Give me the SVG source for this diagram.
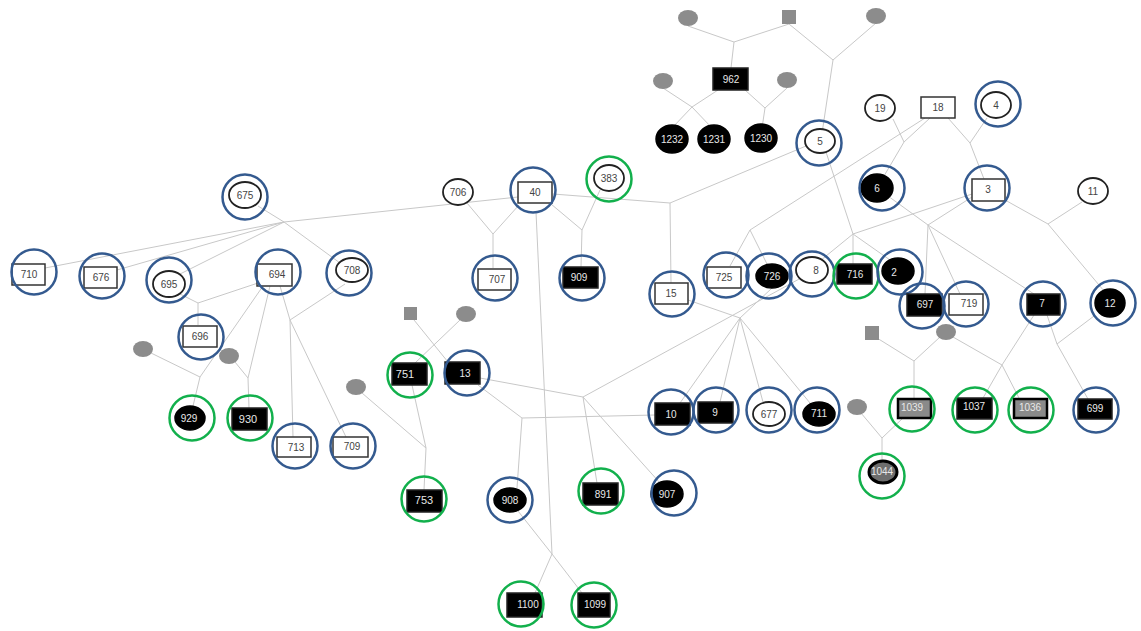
<svg xmlns="http://www.w3.org/2000/svg" width="1141" height="631" viewBox="0 0 1141 631">
<style>
.l{stroke:#c8c8c8;stroke-width:1;fill:none}
.m{fill:#fff;stroke:#333;stroke-width:1.5}
.ma{fill:#000;stroke:#222;stroke-width:1.5}
.mg{fill:#8a8a8a;stroke:#000;stroke-width:2.5}
.f{fill:#fff;stroke:#222;stroke-width:1.8}
.fa{fill:#000;stroke:#000;stroke-width:1.5}
.fg{fill:#6e6e6e;stroke:#000;stroke-width:3}
.u{fill:#8c8c8c;stroke:none}
.b{fill:none;stroke:#345a8f;stroke-width:2.5}
.g{fill:none;stroke:#12b04c;stroke-width:2.5}
text{font-family:"Liberation Sans",Arial,sans-serif;font-size:10px;text-anchor:middle;fill:#444}
.w{fill:#e8e8e8}
</style>
<g id="connectors">
<polyline class="l" points="688,26 734,42 789,24"/><line class="l" x1="734" y1="42" x2="731" y2="68"/>
<polyline class="l" points="789,24 833,60 876,23"/><line class="l" x1="833" y1="60" x2="821" y2="140"/>
<polyline class="l" points="718,90 692,107 663,88"/><line class="l" x1="692" y1="107" x2="672" y2="128"/><line class="l" x1="692" y1="107" x2="712" y2="128"/>
<polyline class="l" points="745,90 765,108 787,88"/><line class="l" x1="765" y1="108" x2="762" y2="128"/>
<polyline class="l" points="893,119 904,142 930,118"/><line class="l" x1="904" y1="142" x2="884" y2="176"/>
<line class="l" x1="925" y1="118" x2="750" y2="230"/><line class="l" x1="750" y1="230" x2="730" y2="266"/><line class="l" x1="750" y1="230" x2="768" y2="266"/>
<polyline class="l" points="948,118 970,143 987,118"/><line class="l" x1="970" y1="143" x2="984" y2="179"/>
<polyline class="l" points="826,152 853,234 972,194"/><line class="l" x1="853" y1="234" x2="815" y2="265"/><line class="l" x1="853" y1="234" x2="853" y2="264"/><line class="l" x1="853" y1="234" x2="890" y2="260"/>
<polyline class="l" points="888,196 928,225 1034,294"/><line class="l" x1="972" y1="197" x2="928" y2="225"/><line class="l" x1="928" y1="225" x2="925" y2="294"/><line class="l" x1="928" y1="225" x2="960" y2="294"/>
<polyline class="l" points="1005,200 1048,224 1082,202"/><line class="l" x1="1048" y1="224" x2="1104" y2="291"/>
<line class="l" x1="518" y1="197" x2="284" y2="222"/><polyline class="l" points="258,206 284,222 340,263"/><line class="l" x1="284" y1="222" x2="45" y2="268"/><line class="l" x1="284" y1="222" x2="117" y2="270"/><line class="l" x1="284" y1="222" x2="180" y2="274"/>
<polyline class="l" points="467,203 493,234 519,205"/><line class="l" x1="493" y1="234" x2="493" y2="268"/>
<polyline class="l" points="551,204 582,230 600,190"/><line class="l" x1="582" y1="230" x2="581" y2="267"/>
<polyline class="l" points="553,194 670,203 806,146"/><line class="l" x1="670" y1="203" x2="671" y2="283"/>
<line class="l" x1="536" y1="212" x2="552" y2="554"/><line class="l" x1="518" y1="511" x2="552" y2="554"/><line class="l" x1="552" y1="554" x2="535" y2="593"/><line class="l" x1="552" y1="554" x2="582" y2="593"/>
<polyline class="l" points="172,290 198,303 258,283"/><line class="l" x1="198" y1="303" x2="198" y2="325"/>
<polyline class="l" points="263,286 200,377 151,353"/><line class="l" x1="200" y1="377" x2="193" y2="406"/>
<polyline class="l" points="270,286 248,378 235,362"/><line class="l" x1="248" y1="378" x2="249" y2="408"/>
<polyline class="l" points="280,286 290,320 345,284"/><line class="l" x1="290" y1="320" x2="293" y2="437"/><line class="l" x1="290" y1="320" x2="346" y2="437"/>
<line class="l" x1="414" y1="320" x2="448" y2="362"/><line class="l" x1="460" y1="320" x2="415" y2="363"/>
<polyline class="l" points="412,385 426,448 362,393"/><line class="l" x1="426" y1="448" x2="424" y2="490"/>
<polyline class="l" points="480,378 583,397 812,272"/><line class="l" x1="583" y1="397" x2="597" y2="483"/><line class="l" x1="583" y1="397" x2="660" y2="483"/>
<polyline class="l" points="478,385 522,418 655,415"/><line class="l" x1="522" y1="418" x2="517" y2="488"/>
<polyline class="l" points="688,300 740,318 772,288"/><line class="l" x1="740" y1="318" x2="680" y2="403"/><line class="l" x1="740" y1="318" x2="720" y2="402"/><line class="l" x1="740" y1="318" x2="763" y2="402"/><line class="l" x1="740" y1="318" x2="810" y2="403"/>
<polyline class="l" points="877,338 914,361 940,337"/><line class="l" x1="914" y1="361" x2="914" y2="398"/>
<polyline class="l" points="953,337 1002,365 1034,315"/><line class="l" x1="1002" y1="365" x2="983" y2="398"/><line class="l" x1="1002" y1="365" x2="1019" y2="398"/>
<polyline class="l" points="1047,315 1057,344 1094,316"/><line class="l" x1="1057" y1="344" x2="1088" y2="399"/>
<polyline class="l" points="861,413 882,438 903,418"/><line class="l" x1="882" y1="438" x2="882" y2="461"/>
</g>
<g id="u1"><ellipse class="u" cx="688" cy="18" rx="10" ry="8"/></g>
<g id="u2"><rect class="u" x="782" y="10" width="14" height="14"/></g>
<g id="u3"><ellipse class="u" cx="876" cy="16" rx="10" ry="8"/></g>
<g id="u4"><ellipse class="u" cx="663" cy="81" rx="10" ry="8"/></g>
<g id="u5"><ellipse class="u" cx="787" cy="80" rx="10" ry="8"/></g>
<g id="n962"><rect class="ma" x="713" y="68" width="35" height="22"/><text class="w" x="731" y="83">962</text></g>
<g id="n1232"><ellipse class="fa" cx="672" cy="139" rx="16" ry="14"/><text class="w" x="672" y="143">1232</text></g>
<g id="n1231"><ellipse class="fa" cx="714" cy="139" rx="16" ry="14"/><text class="w" x="714" y="143">1231</text></g>
<g id="n1230"><ellipse class="fa" cx="761" cy="138" rx="16" ry="14"/><text class="w" x="761" y="142">1230</text></g>
<g id="n5"><ellipse class="f" cx="820" cy="141" rx="15" ry="12"/><text x="820" y="145">5</text><circle class="b" cx="819" cy="143" r="22.5"/></g>
<g id="n19"><ellipse class="f" cx="880" cy="108" rx="15" ry="13"/><text x="880" y="112">19</text></g>
<g id="n18"><rect class="m" x="921" y="97" width="34" height="21"/><text x="938" y="111">18</text></g>
<g id="n4"><ellipse class="f" cx="996" cy="105" rx="15" ry="13"/><text x="996" y="109">4</text><circle class="b" cx="998" cy="104" r="22.5"/></g>
<g id="n6"><ellipse class="fa" cx="877" cy="188" rx="16" ry="14"/><text class="w" x="877" y="192">6</text><circle class="b" cx="882" cy="188" r="22.5"/></g>
<g id="n3"><rect class="m" x="972" y="179" width="33" height="22"/><text x="988" y="193">3</text><circle class="b" cx="987" cy="188" r="22.5"/></g>
<g id="n11"><ellipse class="f" cx="1093" cy="191" rx="15" ry="13"/><text x="1093" y="195">11</text></g>
<g id="n675"><ellipse class="f" cx="245" cy="195" rx="16" ry="13"/><text x="245" y="199">675</text><circle class="b" cx="245" cy="197" r="22.5"/></g>
<g id="n706"><ellipse class="f" cx="458" cy="192" rx="15" ry="13"/><text x="458" y="196">706</text></g>
<g id="n40"><rect class="m" x="518" y="182" width="34" height="21"/><text x="535" y="196">40</text><circle class="b" cx="533" cy="190" r="22.5"/></g>
<g id="n383"><ellipse class="f" cx="609" cy="178" rx="15" ry="13"/><text x="609" y="182">383</text><circle class="g" cx="609" cy="179" r="22.5"/></g>
<g id="n710"><rect class="m" x="12" y="264" width="33" height="21"/><text x="29" y="278">710</text><circle class="b" cx="34" cy="272" r="22.5"/></g>
<g id="n676"><rect class="m" x="84" y="267" width="33" height="21"/><text x="101" y="281">676</text><circle class="b" cx="102" cy="276" r="22.5"/></g>
<g id="n695"><ellipse class="f" cx="169" cy="284" rx="16" ry="13"/><text x="169" y="288">695</text><circle class="b" cx="169" cy="280" r="22.5"/></g>
<g id="n694"><rect class="m" x="257" y="264" width="35" height="22"/><text x="277" y="278">694</text><circle class="b" cx="278" cy="272" r="22.5"/></g>
<g id="n708"><ellipse class="f" cx="352" cy="270" rx="16" ry="12"/><text x="352" y="274">708</text><circle class="b" cx="349" cy="273" r="22.5"/></g>
<g id="n707"><rect class="m" x="478" y="269" width="33" height="21"/><text x="497" y="283">707</text><circle class="b" cx="495" cy="278" r="22.5"/></g>
<g id="n909"><rect class="ma" x="563" y="267" width="35" height="21"/><text class="w" x="579" y="281">909</text><circle class="b" cx="582" cy="278" r="22.5"/></g>
<g id="n15"><rect class="m" x="655" y="283" width="33" height="21"/><text x="671" y="297">15</text><circle class="b" cx="672" cy="294" r="22.5"/></g>
<g id="n725"><rect class="m" x="707" y="267" width="34" height="21"/><text x="724" y="281">725</text><circle class="b" cx="726" cy="275" r="22.5"/></g>
<g id="n726"><ellipse class="fa" cx="772" cy="276" rx="16" ry="12"/><text class="w" x="772" y="280">726</text><circle class="b" cx="769" cy="276" r="22.5"/></g>
<g id="n8"><ellipse class="f" cx="812" cy="270" rx="16" ry="13"/><text x="816" y="274">8</text><circle class="b" cx="812" cy="274" r="22.5"/></g>
<g id="n716"><rect class="ma" x="837" y="264" width="35" height="20"/><text class="w" x="855" y="278">716</text><circle class="g" cx="856" cy="276" r="22.5"/></g>
<g id="n2"><ellipse class="fa" cx="898" cy="271" rx="16" ry="13"/><text class="w" x="894" y="276">2</text><circle class="b" cx="900" cy="272" r="22.5"/></g>
<g id="n697"><rect class="ma" x="907" y="294" width="35" height="22"/><text class="w" x="925" y="308">697</text><circle class="b" cx="922" cy="306" r="22.5"/></g>
<g id="n719"><rect class="m" x="949" y="294" width="34" height="21"/><text x="969" y="307">719</text><circle class="b" cx="966" cy="304" r="22.5"/></g>
<g id="n7"><rect class="ma" x="1027" y="294" width="33" height="21"/><text class="w" x="1042" y="307">7</text><circle class="b" cx="1043" cy="304" r="22.5"/></g>
<g id="n12"><ellipse class="fa" cx="1110" cy="303" rx="15" ry="14"/><text class="w" x="1110" y="307">12</text><circle class="b" cx="1113" cy="303" r="22.5"/></g>
<g id="n696"><rect class="m" x="183" y="326" width="34" height="21"/><text x="200" y="340">696</text><circle class="b" cx="201" cy="337" r="22.5"/></g>
<g id="u6"><ellipse class="u" cx="143" cy="349" rx="10" ry="8"/></g>
<g id="u7"><ellipse class="u" cx="229" cy="356" rx="10" ry="8"/></g>
<g id="u8"><rect class="u" x="404" y="307" width="13" height="13"/></g>
<g id="u9"><ellipse class="u" cx="466" cy="314" rx="10" ry="8"/></g>
<g id="u10"><ellipse class="u" cx="356" cy="387" rx="10" ry="8"/></g>
<g id="u11"><rect class="u" x="865" y="326" width="14" height="14"/></g>
<g id="u12"><ellipse class="u" cx="946" cy="332" rx="10" ry="8"/></g>
<g id="u13"><ellipse class="u" cx="857" cy="407" rx="10" ry="8"/></g>
<g id="n751"><rect class="ma" x="392" y="363" width="35" height="22"/><text class="w" x="405" y="378" style="font-size:11px">751</text><circle class="g" cx="410" cy="375" r="22.5"/></g>
<g id="n13"><rect class="ma" x="445" y="362" width="35" height="22"/><text class="w" x="465" y="377">13</text><circle class="b" cx="467" cy="373" r="22.5"/></g>
<g id="n929"><ellipse class="fa" cx="190" cy="418" rx="15" ry="12"/><text class="w" x="189" y="422">929</text><circle class="g" cx="192" cy="418" r="22.5"/></g>
<g id="n930"><rect class="ma" x="232" y="408" width="35" height="22"/><text class="w" x="248" y="423" style="font-size:11px">930</text><circle class="g" cx="250" cy="418" r="22.5"/></g>
<g id="n713"><rect class="m" x="277" y="437" width="34" height="20"/><text x="296" y="451">713</text><circle class="b" cx="295" cy="446" r="22.5"/></g>
<g id="n709"><rect class="m" x="333" y="437" width="35" height="20"/><text x="352" y="450">709</text><circle class="b" cx="353" cy="446" r="22.5"/></g>
<g id="n10"><rect class="ma" x="655" y="403" width="35" height="22"/><text class="w" x="671" y="418">10</text><circle class="b" cx="671" cy="412" r="22.5"/></g>
<g id="n9"><rect class="ma" x="698" y="402" width="35" height="21"/><text class="w" x="715" y="416">9</text><circle class="b" cx="716" cy="410" r="22.5"/></g>
<g id="n677"><ellipse class="f" cx="769" cy="414" rx="16" ry="12"/><text x="769" y="418">677</text><circle class="b" cx="769" cy="410" r="22.5"/></g>
<g id="n711"><ellipse class="fa" cx="819" cy="414" rx="16" ry="12"/><text class="w" x="819" y="417">711</text><circle class="b" cx="817" cy="410" r="22.5"/></g>
<g id="n1039"><rect class="mg" x="898" y="399" width="33" height="19"/><text class="w" x="912" y="411">1039</text><circle class="g" cx="912" cy="409" r="22.5"/></g>
<g id="n1037"><rect class="ma" x="957" y="398" width="35" height="21"/><text class="w" x="974" y="410">1037</text><circle class="g" cx="975" cy="410" r="22.5"/></g>
<g id="n1036"><rect class="mg" x="1014" y="399" width="33" height="19"/><text class="w" x="1030" y="411">1036</text><circle class="g" cx="1031" cy="410" r="22.5"/></g>
<g id="n699"><rect class="ma" x="1078" y="399" width="34" height="20"/><text class="w" x="1095" y="412">699</text><circle class="b" cx="1096" cy="410" r="22.5"/></g>
<g id="n1044"><ellipse class="fg" cx="883" cy="472" rx="14" ry="11"/><text class="w" x="882" y="475">1044</text><circle class="g" cx="882" cy="476" r="22.5"/></g>
<g id="n753"><rect class="ma" x="407" y="490" width="35" height="22"/><text class="w" x="424" y="504" style="font-size:11px">753</text><circle class="g" cx="424" cy="499" r="22.5"/></g>
<g id="n908"><ellipse class="fa" cx="510" cy="500" rx="16" ry="12"/><text class="w" x="510" y="504">908</text><circle class="b" cx="510" cy="500" r="22.5"/></g>
<g id="n891"><rect class="ma" x="583" y="483" width="35" height="22"/><text class="w" x="603" y="498">891</text><circle class="g" cx="601" cy="491" r="22.5"/></g>
<g id="n907"><ellipse class="fa" cx="667" cy="494" rx="16" ry="13"/><text class="w" x="667" y="498">907</text><circle class="b" cx="674" cy="493" r="22.5"/></g>
<g id="n1100"><rect class="ma" x="507" y="593" width="35" height="24"/><text class="w" x="528" y="608">1100</text><circle class="g" cx="521" cy="604" r="22.5"/></g>
<g id="n1099"><rect class="ma" x="578" y="593" width="32" height="24"/><text class="w" x="595" y="608">1099</text><circle class="g" cx="594" cy="605" r="22.5"/></g>
</svg>
